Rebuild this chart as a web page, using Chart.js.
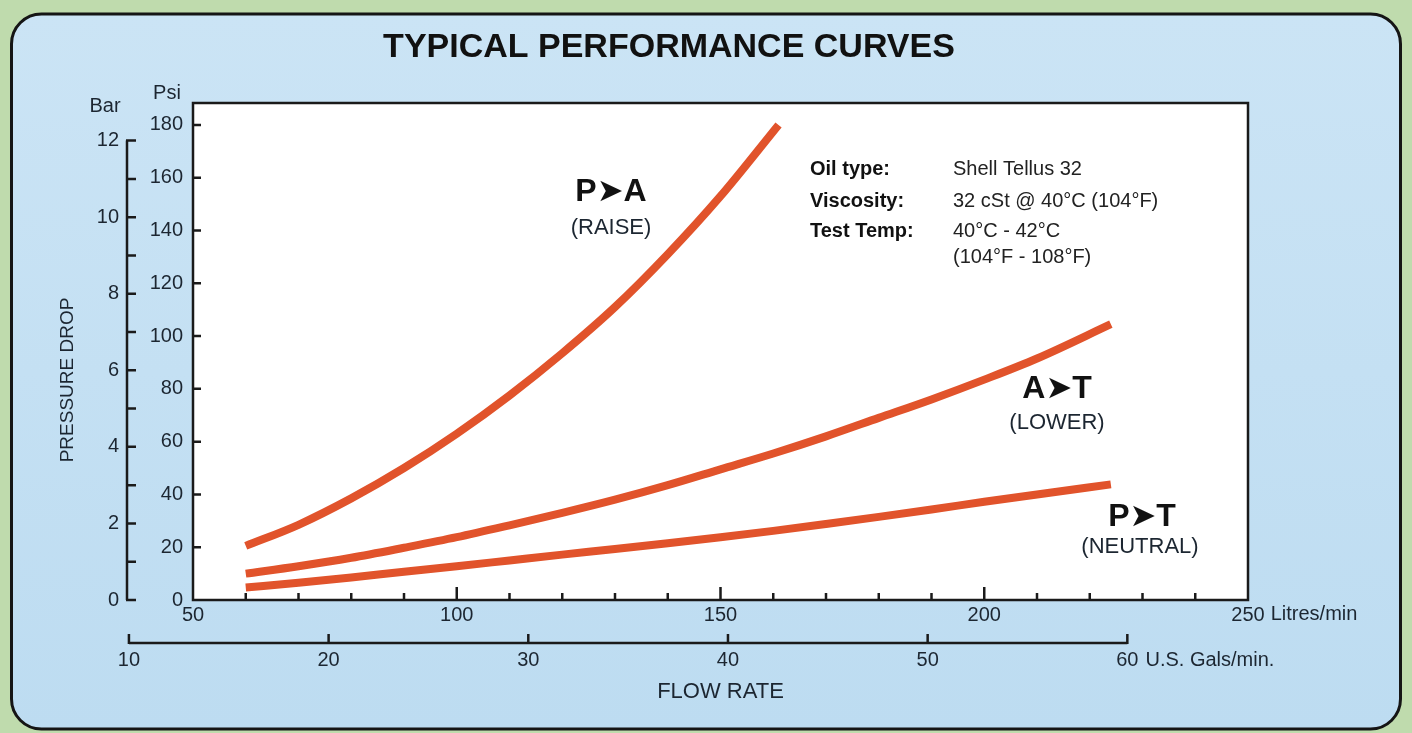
<!DOCTYPE html>
<html>
<head>
<meta charset="utf-8">
<script src="https://cdn.jsdelivr.net/npm/chart.js@4.4.1/dist/chart.umd.min.js"></script>
<style>
  html, body { margin: 0; padding: 0; background: #bfdbad; }
  #wrap { width: 1412px; height: 733px; }
</style>
</head>
<body>
<div id="wrap"><canvas id="chart" width="1412" height="733"></canvas></div>
<script>
// flow in litres/min, pressure drop in psi
const flowPA = [60, 70, 80, 90, 100, 110, 120, 130, 140, 150, 161]
const psiPA = [20.5, 28.5, 38.5, 50, 63, 77.5, 93.5, 111, 131, 153, 180]

const flowAT = [60, 70, 80, 90, 100, 110, 120, 130, 140, 150, 160, 170, 180, 190, 200, 210, 224]
const psiAT = [10, 12.8, 16, 19.8, 23.8, 28.3, 33, 38, 43.5, 49.5, 55.5, 62, 69, 76, 83.5, 91.5, 104.5]

const flowPT = [60, 70, 80, 90, 100, 110, 120, 130, 140, 150, 160, 170, 180, 190, 200, 210, 224]
const psiPT = [4.7, 6.5, 8.5, 10.7, 12.8, 15, 17.2, 19.3, 21.5, 23.8, 26.2, 28.8, 31.5, 34.3, 37.2, 40, 43.8]

// axis ticks
const psiTicks = [0, 20, 40, 60, 80, 100, 120, 140, 160, 180]
const barTicks = [0, 1, 2, 3, 4, 5, 6, 7, 8, 9, 10, 11, 12]
const barLabels = [0, 2, 4, 6, 8, 10, 12]
const litreTicks = [50, 100, 150, 200, 250]
const litreMinorTicks = [60, 70, 80, 90, 110, 120, 130, 140, 160, 170, 180, 190, 210, 220, 230, 240]
const galTicks = [10, 20, 30, 40, 50, 60]

const PSI_PER_BAR = 14.5038
const LITRES_PER_GAL = 3.78541
const PSI_MAX = 188.3

const FONT = "'Liberation Sans', Arial, Helvetica, 'DejaVu Sans', sans-serif"
const INK = "#1c2631"
const CURVE = "#e1532b"

const toPoints = (flows, psis) => flows.map((f, i) => ({ x: f, y: psis[i] }))

function text(ctx, str, x, y, size, opts = {}) {
  ctx.font = (opts.bold ? "bold " : "") + size + "px " + FONT
  ctx.fillStyle = opts.color || INK
  ctx.textAlign = opts.align || "center"
  ctx.textBaseline = "middle"
  ctx.fillText(str, x, y)
}

const decor = {
  id: "decor",
  beforeDraw(chart) {
    const { ctx, chartArea: a } = chart
    ctx.save()
    // blue card
    const g = ctx.createLinearGradient(0, 14, 0, 729)
    g.addColorStop(0, "#cbe4f5")
    g.addColorStop(1, "#bddcf1")
    ctx.beginPath()
    ctx.roundRect(11.5, 14, 1389, 715, 30)
    ctx.fillStyle = g
    ctx.fill()
    ctx.lineWidth = 3
    ctx.strokeStyle = "#151515"
    ctx.stroke()
    // white plot panel
    ctx.fillStyle = "#ffffff"
    ctx.fillRect(a.left, a.top, a.right - a.left, a.bottom - a.top)
    ctx.restore()
  },
  afterDraw(chart) {
    const { ctx, chartArea: a, scales } = chart
    const { x, y, yBar, xGal } = scales
    ctx.save()
    ctx.strokeStyle = "#1a1a1a"
    ctx.lineCap = "butt"

    // panel border
    ctx.lineWidth = 2.5
    ctx.strokeRect(a.left, a.top, a.right - a.left, a.bottom - a.top)

    // psi ticks, pointing into the panel
    ctx.lineWidth = 2.5
    ctx.beginPath()
    psiTicks.slice(1).forEach(v => {
      const py = y.getPixelForValue(v)
      ctx.moveTo(a.left, py)
      ctx.lineTo(a.left + 8, py)
    })
    // litre ticks, pointing up
    litreMinorTicks.forEach(v => {
      const px = x.getPixelForValue(v)
      ctx.moveTo(px, a.bottom)
      ctx.lineTo(px, a.bottom - 7)
    })
    litreTicks.slice(1, -1).forEach(v => {
      const px = x.getPixelForValue(v)
      ctx.moveTo(px, a.bottom)
      ctx.lineTo(px, a.bottom - 13)
    })
    ctx.stroke()

    // bar axis
    const barX = 127
    ctx.beginPath()
    ctx.moveTo(barX, yBar.getPixelForValue(0))
    ctx.lineTo(barX, yBar.getPixelForValue(12))
    barTicks.forEach(v => {
      const py = yBar.getPixelForValue(v)
      ctx.moveTo(barX - 1, py)
      ctx.lineTo(barX + 9, py)
    })
    ctx.stroke()
    barLabels.forEach(v => {
      text(ctx, String(v), barX - 8, yBar.getPixelForValue(v), 20, { align: "right" })
    })

    // US gallons axis
    const galY = 643
    ctx.beginPath()
    ctx.moveTo(xGal.getPixelForValue(galTicks[0]), galY)
    ctx.lineTo(xGal.getPixelForValue(galTicks[galTicks.length - 1]), galY)
    galTicks.forEach(v => {
      const px = xGal.getPixelForValue(v)
      ctx.moveTo(px, galY + 1)
      ctx.lineTo(px, galY - 9)
    })
    ctx.stroke()
    galTicks.forEach(v => {
      text(ctx, String(v), xGal.getPixelForValue(v), 660, 20)
    })
    ctx.font = "20px " + FONT
    const lastGal = xGal.getPixelForValue(60) + ctx.measureText("60").width / 2 + 7
    text(ctx, "U.S. Gals/min.", lastGal, 660, 20, { align: "left" })

    // unit after the 250 tick label
    ctx.font = "20px " + FONT
    const lastLitre = x.getPixelForValue(250) + ctx.measureText("250").width / 2 + 6
    text(ctx, "Litres/min", lastLitre, 614, 20, { align: "left" })

    // axis headings
    text(ctx, "Bar", 105, 106, 20)
    text(ctx, "Psi", 167, 93, 20)
    ctx.save()
    ctx.translate(68, 380)
    ctx.rotate(-Math.PI / 2)
    text(ctx, "PRESSURE DROP", 0, 0, 19)
    ctx.restore()

    // curve labels
    text(ctx, "P\u27A4A", 611, 192, 32, { bold: true, color: "#111" })
    text(ctx, "(RAISE)", 611, 228, 22)
    text(ctx, "A\u27A4T", 1057, 389, 32, { bold: true, color: "#111" })
    text(ctx, "(LOWER)", 1057, 423, 22)
    text(ctx, "P\u27A4T", 1142, 517, 32, { bold: true, color: "#111" })
    text(ctx, "(NEUTRAL)", 1140, 547, 22)

    // test conditions
    const keys = ["Oil type:", "Viscosity:", "Test Temp:"]
    const vals = ["Shell Tellus 32", "32 cSt @ 40\u00B0C (104\u00B0F)", "40\u00B0C - 42\u00B0C", "(104\u00B0F - 108\u00B0F)"]
    const rowsY = [169, 201, 231, 257]
    keys.forEach((k, i) => text(ctx, k, 810, rowsY[i], 20, { bold: true, align: "left", color: "#111" }))
    vals.forEach((v, i) => text(ctx, v, 953, rowsY[i], 20, { align: "left", color: "#222" }))

    ctx.restore()
  }
}

const curveStyle = {
  borderColor: CURVE,
  borderWidth: 8,
  borderCapStyle: "butt",
  pointRadius: 0,
  fill: false,
  cubicInterpolationMode: "monotone"
}

new Chart(document.getElementById("chart"), {
  type: "line",
  data: {
    datasets: [
      { label: "P\u27A4A (RAISE)", data: toPoints(flowPA, psiPA), ...curveStyle },
      { label: "A\u27A4T (LOWER)", data: toPoints(flowAT, psiAT), ...curveStyle },
      { label: "P\u27A4T (NEUTRAL)", data: toPoints(flowPT, psiPT), ...curveStyle }
    ]
  },
  options: {
    responsive: false,
    animation: false,
    events: [],
    layout: { padding: { left: 90, right: 164, top: 0, bottom: 23 } },
    plugins: {
      legend: { display: false },
      tooltip: { enabled: false },
      title: {
        display: true,
        text: "TYPICAL PERFORMANCE CURVES",
        color: "#111",
        font: { family: FONT, size: 34, weight: "bold" },
        padding: { top: 27.6, bottom: 34.6 }
      }
    },
    scales: {
      x: {
        type: "linear",
        position: "bottom",
        weight: 0,
        min: 50,
        max: 250,
        afterBuildTicks: s => { s.ticks = litreTicks.map(value => ({ value })) },
        afterFit: s => { s.height = 110 },
        ticks: { color: INK, font: { family: FONT, size: 20 }, padding: 3, maxRotation: 0, autoSkip: false },
        grid: { display: false, drawTicks: false },
        border: { display: false },
        title: {
          display: true,
          text: "FLOW RATE",
          color: INK,
          font: { family: FONT, size: 22 },
          padding: { top: 0, bottom: 5 }
        }
      },
      xGal: {
        type: "linear",
        axis: "x",
        position: "bottom",
        weight: 1,
        display: false,
        min: 50 / LITRES_PER_GAL,
        max: 250 / LITRES_PER_GAL
      },
      y: {
        type: "linear",
        position: "left",
        weight: 0,
        min: 0,
        max: PSI_MAX,
        afterBuildTicks: s => { s.ticks = psiTicks.map(value => ({ value })) },
        afterFit: s => { s.width = 103 },
        ticks: { color: INK, font: { family: FONT, size: 20 }, padding: 10 },
        grid: { display: false, drawTicks: false },
        border: { display: false }
      },
      yBar: {
        type: "linear",
        axis: "y",
        position: "left",
        weight: 1,
        display: false,
        min: 0,
        max: PSI_MAX / PSI_PER_BAR
      }
    }
  },
  plugins: [decor]
})
</script>
</body>
</html>
